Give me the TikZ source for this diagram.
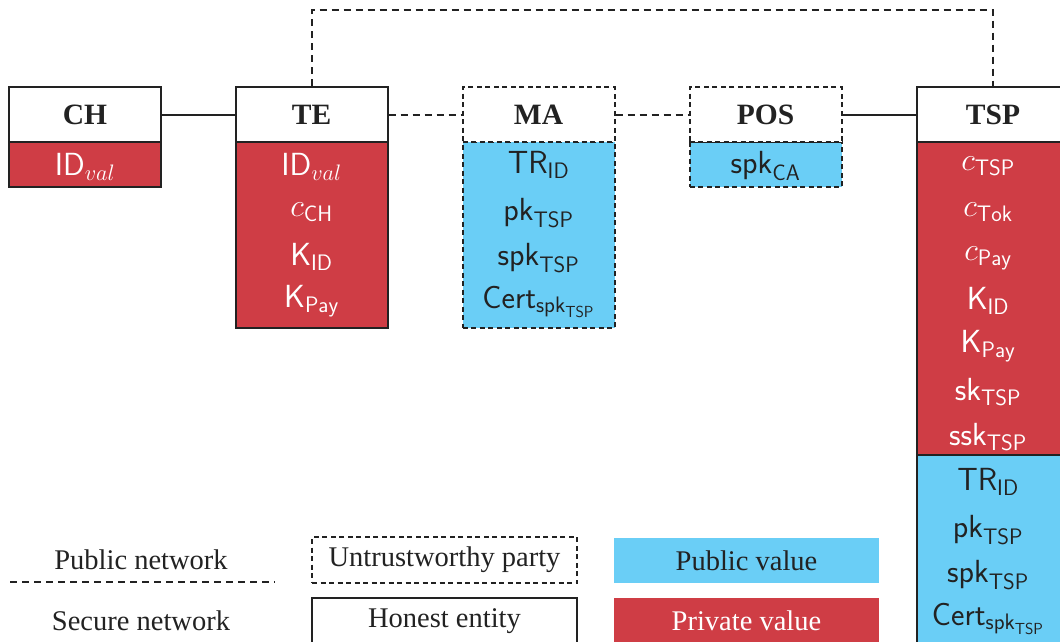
\RequirePackage{fix-cm}
\documentclass[tikz,border=0pt]{standalone}
\usepackage{fontspec}
\setmainfont{Liberation Serif}
\definecolor{privred}{HTML}{CF3D45}
\definecolor{pubblue}{HTML}{6ACEF6}
\definecolor{linec}{HTML}{222222}
\newcommand{\msf}[1]{\mathsf{#1}}
\tikzset{
  ent/.style={draw=linec, line width=2pt, fill=white, minimum width=152pt, minimum height=55pt, inner sep=0pt,
    font=\fontsize{29.5}{33}\selectfont\bfseries, text=linec},
  untr/.style={dash pattern=on 5pt off 3.5pt},
  privbox/.style={draw=linec, line width=2pt, fill=privred, minimum width=152pt, inner sep=0pt},
  pubbox/.style={draw=linec, line width=2pt, fill=pubblue, minimum width=152pt, inner sep=0pt},
  pv/.style={text=white, font=\fontsize{32}{36}\selectfont, inner sep=0pt},
  bv/.style={text=linec, font=\fontsize{32}{36}\selectfont, inner sep=0pt},
  secure/.style={draw=linec, line width=2pt},
  public/.style={draw=linec, line width=2pt, dash pattern=on 7pt off 5pt},
  leg/.style={font=\fontsize{28.5}{32}\selectfont, text=linec, inner sep=0pt},
  legbox/.style={minimum width=265pt, minimum height=46pt, inner sep=0pt, font=\fontsize{28.5}{32}\selectfont}
}
\begin{document}
\begin{tikzpicture}[x=1pt,y=-1pt]
\useasboundingbox (0,0) rectangle (1060,641);
\clip (0,0) rectangle (1060,641);
% value boxes
\node[privbox, minimum height=45pt] (chv) at (85,164.5) {};
\node[privbox, minimum height=186pt] (tev) at (311.5,235) {};
\node[pubbox, untr, minimum height=186pt] (mav) at (538.5,235) {};
\node[pubbox, untr, minimum height=45pt] (posv) at (765.5,164.5) {};
\node[privbox, minimum height=313pt] (tspr) at (993,298.5) {};
\node[pubbox, minimum height=200pt] (tspb) at (993,555) {};
% titles
\node[ent] (ch) at (85,114.5) {CH};
\node[ent] (te) at (311.5,114.5) {TE};
\node[ent, untr] (ma) at (538.5,114.5) {MA};
\node[ent, untr] (pos) at (765.5,114.5) {POS};
\node[ent] (tsp) at (993,114.5) {TSP};
% connectors
\draw[secure] (ch) -- (te);
\draw[public] (te) -- (ma);
\draw[public] (ma) -- (pos);
\draw[secure] (pos) -- (tsp);
\draw[public] (te.north) -- ([yshift=76pt]te.north) -| (tsp.north);
% values CH
\node[pv] (ch1) at (85,167) {$\msf{ID}_{val}$};
% TE
\node[pv] (te1) at (311.5,167) {$\msf{ID}_{val}$};
\node[pv] (te2) at (311.5,212) {$c_{\msf{CH}}$};
\node[pv] (te3) at (311.5,257) {$\msf{K}_{\msf{ID}}$};
\node[pv] (te4) at (311.5,301) {$\msf{K}_{\msf{Pay}}$};
% MA
\node[bv] (ma1) at (538.5,165) {$\msf{TR}_{\msf{ID}}$};
\node[bv] (ma2) at (538.5,213) {$\msf{pk}_{\msf{TSP}}$};
\node[bv] (ma3) at (538.5,258) {$\msf{spk}_{\msf{TSP}}$};
\node[bv] (ma4) at (538.5,302) {$\msf{Cert}_{\msf{spk}_{\msf{TSP}}}$};
% POS
\node[bv] (pos1) at (765.5,166) {$\msf{spk}_{\msf{CA}}$};
% TSP private
\node[pv] (t1) at (988,166) {$c_{\msf{TSP}}$};
\node[pv] (t2) at (988,212) {$c_{\msf{Tok}}$};
\node[pv] (t3) at (988,258) {$c_{\msf{Pay}}$};
\node[pv] (t4) at (988,301) {$\msf{K}_{\msf{ID}}$};
\node[pv] (t5) at (988,346) {$\msf{K}_{\msf{Pay}}$};
\node[pv] (t6) at (988,392) {$\msf{sk}_{\msf{TSP}}$};
\node[pv] (t7) at (988,437) {$\msf{ssk}_{\msf{TSP}}$};
% TSP public
\node[bv] (t8) at (988,482) {$\msf{TR}_{\msf{ID}}$};
\node[bv] (t9) at (988,530) {$\msf{pk}_{\msf{TSP}}$};
\node[bv] (t10) at (988,575) {$\msf{spk}_{\msf{TSP}}$};
\node[bv] (t11) at (988,619) {$\msf{Cert}_{\msf{spk}_{\msf{TSP}}}$};
% legend
\node[leg] (lpub) at (141,560) {Public network};
\coordinate (lp1) at (10,582);
\coordinate (lp2) at (275,582);
\draw[public] (lp1) -- (lp2);
\node[leg] (lsec) at (141,621) {Secure network};
\node[legbox, draw=linec, line width=1.6pt, untr, text=linec] (lun) at (444.5,560) {Untrustworthy party};
\node[legbox, draw=linec, line width=2pt, text=linec] (lho) at (444.5,621) {Honest entity};
\node[legbox, fill=pubblue, text=linec, minimum height=45pt] (lpv) at (746.5,560.5) {Public value};
\node[legbox, fill=privred, text=white] (lpr) at (746.5,621) {Private value};
\end{tikzpicture}
\end{document}
